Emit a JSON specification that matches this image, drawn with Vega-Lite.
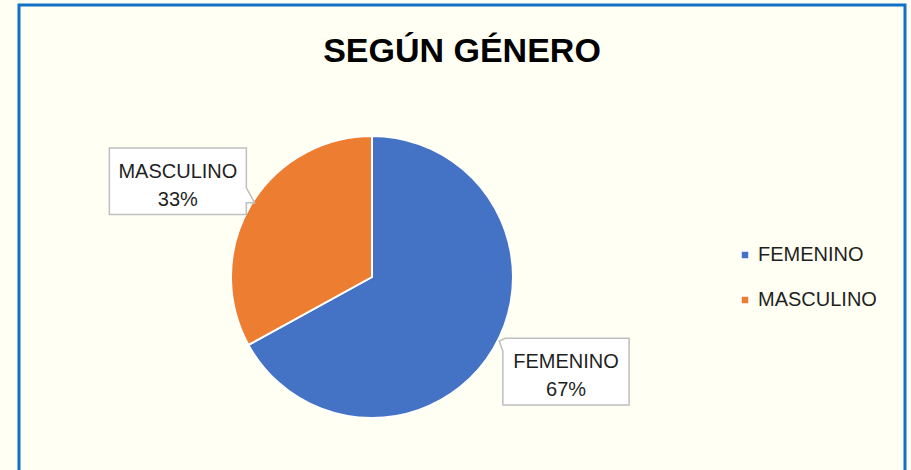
{
  "$schema": "https://vega.github.io/schema/vega-lite/v6.json",
  "width": 886,
  "height": 480,
  "autosize": {"type": "none"},
  "padding": {"left": 19, "top": 5, "right": 6, "bottom": 0},
  "background": "#FFFFF4",
  "view": {"stroke": "#1271C6", "strokeWidth": 3, "fill": "#FFFFF4"},
  "title": {
    "text": "SEGÚN GÉNERO",
    "font": "Liberation Sans",
    "fontSize": 34,
    "fontWeight": "bold",
    "color": "#000000",
    "anchor": "middle",
    "frame": "group",
    "orient": "top",
    "offset": -64
  },
  "data": {
    "values": [
      {"genero": "FEMENINO", "valor": 0.67},
      {"genero": "MASCULINO", "valor": 0.33}
    ]
  },
  "layer": [
    {
      "mark": {
        "type": "arc",
        "outerRadius": 141,
        "x": {"expr": "width*0.3984"},
        "y": {"expr": "height*0.5667"},
        "stroke": "white",
        "strokeWidth": 2
      },
      "encoding": {
        "theta": {"field": "valor", "type": "quantitative", "stack": true},
        "order": {"field": "genero", "type": "ordinal", "sort": "ascending"},
        "color": {
          "field": "genero",
          "type": "nominal",
          "scale": {"domain": ["FEMENINO", "MASCULINO"], "range": ["#4472C4", "#ED7D31"]},
          "legend": {
            "orient": "none",
            "legendX": 716,
            "legendY": 240,
            "title": null,
            "symbolType": "square",
            "symbolSize": 64,
            "labelFont": "Liberation Sans",
            "labelFontSize": 20,
            "labelColor": "#1f1f1f",
            "rowPadding": 25,
            "labelOffset": 3,
            "padding": 0
          }
        }
      }
    },
    {
      "transform": [
        {"stack": "valor", "groupby": [], "sort": [{"field": "genero", "order": "ascending"}], "as": ["v0", "v1"]},
        {"filter": "datum.genero == 'FEMENINO'"}
      ],
      "mark": {
        "type": "point",
        "filled": true,
        "fill": "#FFFFFF",
        "fillOpacity": 1,
        "opacity": 1,
        "stroke": "#BFBFBF",
        "strokeWidth": 1.5,
        "size": 18769,
        "shape": "M-0.889,-0.488H0.92V0.486H-0.923V-0.302L-0.977,-0.448Z",
        "x": {"expr": "width*0.3984 + 216*sin((scale('theta', datum.v0) + scale('theta', datum.v1))/2 - 0.08)"},
        "y": {"expr": "height*0.5667 - 216*cos((scale('theta', datum.v0) + scale('theta', datum.v1))/2 - 0.08)"}
      },
      "encoding": {}
    },
    {
      "transform": [
        {"stack": "valor", "groupby": [], "sort": [{"field": "genero", "order": "ascending"}], "as": ["v0", "v1"]},
        {"filter": "datum.genero == 'MASCULINO'"}
      ],
      "mark": {
        "type": "point",
        "filled": true,
        "fill": "#FFFFFF",
        "fillOpacity": 1,
        "opacity": 1,
        "stroke": "#BFBFBF",
        "strokeWidth": 1.5,
        "size": 18769,
        "shape": "M-1,-0.5H1V0.08L1.12,0.3L1,0.3V0.47H-1Z",
        "x": {"expr": "width*0.3984 + 216*sin((scale('theta', datum.v0) + scale('theta', datum.v1))/2 - 0.08)"},
        "y": {"expr": "height*0.5667 - 216*cos((scale('theta', datum.v0) + scale('theta', datum.v1))/2 - 0.08)"}
      },
      "encoding": {}
    },
    {
      "mark": {
        "type": "text",
        "radius": 216,
        "thetaOffset": -0.08,
        "x": {"expr": "width*0.3984"},
        "y": {"expr": "height*0.5667"},
        "dy": -10,
        "font": "Liberation Sans",
        "fontSize": 20,
        "fill": "#1f1f1f"
      },
      "encoding": {
        "theta": {"field": "valor", "type": "quantitative", "stack": true},
        "order": {"field": "genero", "type": "ordinal", "sort": "ascending"},
        "text": {"field": "genero", "type": "nominal"}
      }
    },
    {
      "mark": {
        "type": "text",
        "radius": 216,
        "thetaOffset": -0.08,
        "x": {"expr": "width*0.3984"},
        "y": {"expr": "height*0.5667"},
        "dy": 18,
        "font": "Liberation Sans",
        "fontSize": 20,
        "fill": "#1f1f1f"
      },
      "encoding": {
        "theta": {"field": "valor", "type": "quantitative", "stack": true},
        "order": {"field": "genero", "type": "ordinal", "sort": "ascending"},
        "text": {"field": "valor", "type": "quantitative", "format": ".0%"}
      }
    }
  ]
}
